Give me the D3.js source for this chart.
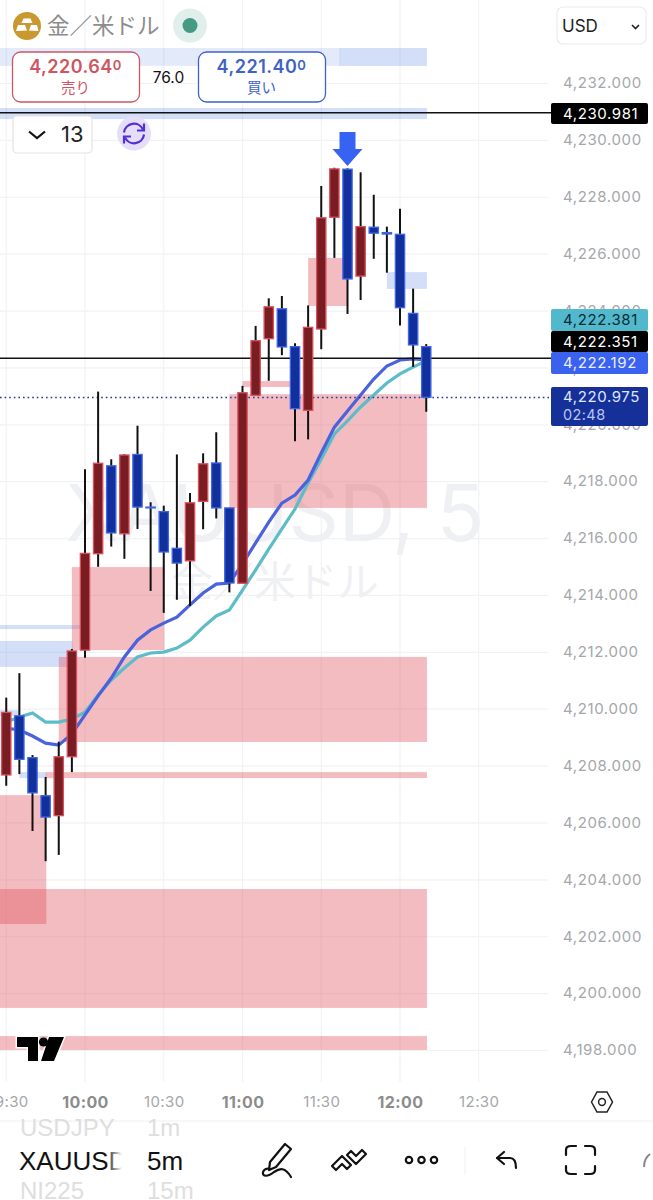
<!DOCTYPE html>
<html><head><meta charset="utf-8">
<script src="https://cdn.jsdelivr.net/npm/d3@7"></script>
<style>
html,body{margin:0;padding:0;background:#fff}
svg{display:block}
text{font-family:Inter,"Noto Sans CJK JP",sans-serif}
</style></head><body>
<svg id="c" width="653" height="1200"></svg>
<script>
const times=["09:30","09:35","09:40","09:45","09:50","09:55","10:00","10:05","10:10","10:15","10:20","10:25","10:30","10:35","10:40","10:45","10:50","10:55","11:00","11:05","11:10","11:15","11:20","11:25","11:30","11:35","11:40","11:45","11:50","11:55","12:00","12:05","12:10"];
const opens=[4207.67,4209.75,4208.28,4206.94,4206.24,4208.31,4212.06,4215.45,4218.54,4216.15,4218.94,4217.09,4216.93,4215.64,4215.20,4217.29,4218.64,4217.06,4214.41,4221.02,4223.01,4224.06,4222.73,4220.49,4223.35,4227.28,4228.97,4225.21,4226.93,4226.74,4226.68,4223.90,4222.73];
const closes=[4209.87,4208.22,4207.04,4206.19,4208.31,4212.03,4215.46,4218.63,4216.18,4218.92,4217.09,4217.06,4215.51,4215.12,4217.24,4218.61,4217.06,4214.42,4221.11,4222.94,4224.13,4222.72,4220.55,4223.41,4227.26,4228.98,4225.11,4226.95,4226.72,4226.69,4224.10,4222.79,4220.95];
const highs=[4210.39,4211.25,4208.37,4207.60,4208.84,4212.10,4218.42,4221.15,4218.77,4218.95,4219.95,4217.26,4217.14,4218.94,4217.58,4218.98,4219.72,4217.06,4221.35,4223.46,4224.43,4224.51,4222.85,4224.18,4228.38,4229.02,4229.00,4228.86,4228.07,4226.95,4227.58,4224.77,4222.82];
const lows=[4207.29,4207.70,4205.70,4204.64,4204.86,4207.77,4211.79,4214.99,4215.70,4215.27,4216.32,4214.14,4213.37,4213.83,4213.61,4216.31,4216.69,4214.09,4214.41,4221.02,4221.53,4222.43,4219.40,4219.47,4222.64,4225.85,4223.88,4224.37,4225.82,4225.33,4223.47,4222.02,4220.44];
const emaFast=[4209.32,4209.25,4209.04,4208.79,4208.72,4209.11,4209.78,4210.45,4211.08,4211.82,4212.41,4212.77,4213.01,4213.22,4213.65,4214.07,4214.38,4214.42,4215.09,4215.83,4216.56,4217.23,4217.51,4218.04,4218.99,4219.90,4220.47,4221.03,4221.59,4222.05,4222.26,4222.30,4222.26];
const emaSlow=[4209.53,4209.71,4209.85,4209.53,4209.53,4209.64,4209.88,4210.48,4211.01,4211.43,4211.82,4211.96,4211.99,4212.13,4212.41,4212.87,4213.26,4213.47,4214.17,4214.88,4215.61,4216.32,4217.02,4217.94,4218.78,4219.66,4220.12,4220.61,4221.03,4221.45,4221.77,4222.01,4222.23];

const demandStart=["09:00","09:00","09:50","09:45","09:55","10:55","11:00","11:25","09:00"];
const demandEnd=["12:10","09:45","12:10","12:10","10:30","12:10","11:18","11:40","12:10"];
const demandTop=[4203.66,4206.96,4211.82,4207.77,4214.98,4221.06,4221.52,4225.85,4198.49];
const demandBottom=[4199.48,4202.43,4208.83,4207.56,4212.06,4217.06,4221.31,4224.16,4198.00];
const supplyStart=["11:37","09:00","11:55","09:00","09:00","09:35","09:00"];
const supplyEnd=["12:10","12:10","12:10","09:55","09:58","09:45","09:35"];
const supplyTop=[4233.23,4231.12,4225.35,4212.38,4212.94,4207.77,4209.95];
const supplyBottom=[4232.60,4230.73,4224.76,4211.47,4212.80,4207.56,4209.75];
const faintStart=["09:00"];
const faintEnd=["11:37"];
const faintTop=[4233.23];
const faintBottom=[4232.60];

const priceTicks=[4232,4230,4228,4226,4224,4222,4220,4218,4216,4214,4212,4210,4208,4206,4204,4202,4200,4198];
const timeTicks=["09:30","10:00","10:30","11:00","11:30","12:00","12:30"];
const priceLines=[4230.981,4222.351];
const lastPrice=4220.975;

const parse=d3.timeParse("%H:%M");
const x=d3.scaleTime().domain([parse("10:00"),parse("12:00")]).range([85,400]);
const y=d3.scaleLinear().domain([4232,4198]).range([83,1050]);
const svg=d3.select("#c");
const candleW=x(parse("10:04"))-x(parse("10:00"));

// grid + axes
const gridCol="#f1f2f4";
svg.append("g").selectAll("line").data(timeTicks).join("line")
 .attr("x1",d=>x(parse(d))).attr("x2",d=>x(parse(d))).attr("y1",0).attr("y2",1082)
 .attr("stroke",gridCol).attr("stroke-width",1.2);
const ay=svg.append("g")
 .call(d3.axisRight(y).tickValues(priceTicks).tickFormat(d3.format(",.3f")).tickSize(548).tickPadding(15));
ay.select(".domain").remove();
ay.selectAll("line").attr("stroke",gridCol).attr("stroke-width",1.2);
ay.selectAll("text").attr("fill","#a5a7ab").attr("font-size",15).attr("letter-spacing",.6);
const ax=svg.append("g").attr("transform","translate(0,1102)")
 .call(d3.axisBottom(x).tickValues(timeTicks.map(parse)).tickFormat(d3.timeFormat("%H:%M")).tickSize(0).tickPadding(0));
ax.select(".domain").remove();
ax.selectAll("text").attr("dy","0.35em").attr("fill",d=>d.getMinutes()===0?"#8c8c8c":"#a5a7ab")
 .attr("font-size",d=>d.getMinutes()===0?16:15).attr("letter-spacing",d=>d.getMinutes()===0?.4:.4)
 .attr("font-weight",d=>d.getMinutes()===0?700:400);

// watermark
svg.append("text").attr("x",275).attr("y",541).attr("text-anchor","middle").attr("font-size",78.5).attr("fill","#eff0f3").text("XAUUSD, 5");
svg.append("text").attr("x",275).attr("y",597).attr("text-anchor","middle").attr("font-size",41.5).attr("fill","#eff0f3").text("金／米ドル");

// zones
function zones(s,e,t,b,fill){
 svg.append("g").selectAll("rect").data(s).join("rect")
  .attr("x",(d,i)=>x(parse(s[i]))).attr("width",(d,i)=>x(parse(e[i]))-x(parse(s[i]))+.7)
  .attr("y",(d,i)=>y(t[i])).attr("height",(d,i)=>y(b[i])-y(t[i])).attr("fill",fill);
}
zones(faintStart,faintEnd,faintTop,faintBottom,"rgba(70,120,225,.15)");
zones(supplyStart,supplyEnd,supplyTop,supplyBottom,"rgba(70,120,225,.24)");
zones(demandStart,demandEnd,demandTop,demandBottom,"rgba(224,80,90,.38)");

// EMAs
const line=d3.line().x((d,i)=>x(parse(times[i]))).y(d=>y(d)).curve(d3.curveLinear);
svg.append("path").attr("d",line(emaSlow)).attr("fill","none").attr("stroke","#5cbcc8").attr("stroke-width",3.2);
svg.append("path").attr("d",line(emaFast)).attr("fill","none").attr("stroke","#4a62dc").attr("stroke-width",3.2);

// price lines
svg.append("g").selectAll("line").data(priceLines).join("line")
 .attr("x1",0).attr("x2",551).attr("y1",d=>y(d)+.7).attr("y2",d=>y(d)+.7).attr("stroke","#111").attr("stroke-width",1.5);
svg.append("line").attr("x1",0).attr("x2",551).attr("y1",y(lastPrice)+1).attr("y2",y(lastPrice)+1)
 .attr("stroke","#23379a").attr("stroke-width",1.6).attr("stroke-dasharray","1.6 3");

// candles
const g=svg.append("g").selectAll("g").data(times).join("g");
g.append("line").attr("x1",d=>x(parse(d))).attr("x2",d=>x(parse(d)))
 .attr("y1",(d,i)=>y(highs[i])).attr("y2",(d,i)=>y(lows[i])).attr("stroke","#111").attr("stroke-width",2);
g.append("rect").attr("x",d=>x(parse(d))-candleW/2+.6).attr("width",candleW-1.2)
 .attr("y",(d,i)=>y(Math.max(opens[i],closes[i])))
 .attr("height",(d,i)=>Math.max(.6,y(Math.min(opens[i],closes[i]))-y(Math.max(opens[i],closes[i]))))
 .attr("fill",(d,i)=>closes[i]>opens[i]?"#7a1d22":"#12309c")
 .attr("stroke",(d,i)=>closes[i]>opens[i]?"#d8505c":"#3f66e6").attr("stroke-width",1.3);

// arrow
const ax0=x(parse("11:40")), ay0=y(4229.05);
svg.append("path").attr("transform",`translate(${ax0},${ay0})`)
 .attr("d","M0,-1 L-15,-18 L-8,-18 L-8,-35 L8,-35 L8,-18 L15,-18 Z").attr("fill","#3763f4");

// price tags
const tags=[
 {y0:103,y1:124,fill:"#000",col:"#fff",t:"4,230.981"},
 {y0:309,y1:331,fill:"#52b8cc",col:"#0b2a36",t:"4,222.381"},
 {y0:352,y1:374,fill:"#3a62ee",col:"#e8edff",t:"4,222.192"},
 {y0:331,y1:352,fill:"#000",col:"#fff",t:"4,222.351"},
 {y0:387,y1:426,fill:"#16309a",col:"#dfe6ff",t:"4,220.975",t2:"02:48"}];
tags.forEach(d=>{
 svg.append("rect").attr("x",551).attr("y",d.y0).attr("width",97).attr("height",d.y1-d.y0).attr("rx",2).attr("fill",d.fill);
 svg.append("text").attr("x",563).attr("y",d.t2?397:(d.y0+d.y1)/2).attr("dy",".36em").attr("font-size",15).attr("letter-spacing",.6).attr("fill",d.col).text(d.t);
 if(d.t2) svg.append("text").attr("x",563).attr("y",414.5).attr("dy",".36em").attr("font-size",14.5).attr("letter-spacing",.4).attr("fill","#b9c5f5").text(d.t2);
});

// TV logo
const logo=svg.append("g").attr("transform","translate(17,1037)");
const logoD="M0,0 H21 V24 H11 V10 H0 Z M32,0 H47 L37,24 H24 Z";
logo.append("path").attr("d",logoD).attr("fill","#fff").attr("stroke","#fff").attr("stroke-width",3);
logo.append("path").attr("d",logoD).attr("fill","#000");
logo.append("circle").attr("cx",26.5).attr("cy",5).attr("r",4.6).attr("fill","#000");

// header
svg.append("circle").attr("cx",27).attr("cy",26).attr("r",14).attr("fill","#c9982f");
svg.append("path").attr("d","M23.5,18.5 h7 l2,4.5 h-11 Z M16,31 l2,-6 h7 l2,5.5 Z M29,30.5 l2,-5.5 h6 l1.5,6 Z").attr("fill","#fff");
svg.append("text").attr("x",47).attr("y",34).attr("font-size",22.5).attr("fill","#8d8d8d").text("金／米ドル");
svg.append("circle").attr("cx",190).attr("cy",25.5).attr("r",17).attr("fill","#e0efeb");
svg.append("circle").attr("cx",190).attr("cy",25.5).attr("r",7.5).attr("fill","#459a85");

function priceBtn(xx,col,main,sub){
 svg.append("rect").attr("x",xx).attr("y",52).attr("width",127).attr("height",50).attr("rx",8).attr("fill","#fff").attr("stroke",col).attr("stroke-width",1.3);
 const t=svg.append("text").attr("x",xx+63).attr("y",72.5).attr("text-anchor","middle").attr("font-size",18).attr("font-weight",600).attr("letter-spacing",.5).attr("fill",col);
 t.append("tspan").text(main);
 t.append("tspan").attr("font-size",13).attr("dy",-3).text("0");
 svg.append("text").attr("x",xx+63).attr("y",93).attr("text-anchor","middle").attr("font-size",14.5).attr("fill",col).text(sub);
}
priceBtn(12.5,"#cf5560","4,220.64","売り");
priceBtn(198.5,"#3f62c6","4,221.40","買い");
svg.append("text").attr("x",168.5).attr("y",82.5).attr("text-anchor","middle").attr("font-size",15.5).attr("fill","#111").text("76.0");

svg.append("rect").attr("x",13).attr("y",116).attr("width",79).attr("height",37).attr("rx",4).attr("fill","#fff").attr("stroke","#e3e3e3").attr("stroke-width",1.2);
svg.append("path").attr("d","M29,131.5 L37,138 L45,131.5").attr("fill","none").attr("stroke","#111").attr("stroke-width",2.2);
svg.append("text").attr("x",61).attr("y",142).attr("font-size",22).attr("fill","#222").text("13");
svg.append("circle").attr("cx",134).attr("cy",133.5).attr("r",17).attr("fill","#e6def8");
const sync=svg.append("g").attr("transform","translate(134,133.5)").attr("fill","none").attr("stroke","#5230d4").attr("stroke-width",2.2);
sync.append("path").attr("d","M-10,-1 A10,10 0 0 1 9,-4");
sync.append("path").attr("d","M10,1 A10,10 0 0 1 -9,4");
sync.append("path").attr("d","M10,-10 V-3 H3");
sync.append("path").attr("d","M-10,10 V3 H-3");

// USD selector
svg.append("rect").attr("x",557).attr("y",7).attr("width",89).attr("height",37).attr("rx",6).attr("fill","#fff").attr("stroke","#ececec").attr("stroke-width",1.2);
svg.append("text").attr("x",562).attr("y",32).attr("font-size",17).attr("fill","#222").text("USD");
svg.append("path").attr("d","M632,25 L635.5,28.5 L639,25").attr("fill","none").attr("stroke","#222").attr("stroke-width",1.6);

// hexagon settings
const hx=svg.append("g").attr("transform","translate(602,1102)").attr("fill","none").attr("stroke","#222").attr("stroke-width",1.5);
hx.append("path").attr("d","M-10.5,0 L-5,-10 H5 L10.5,0 L5,10 H-5 Z");
hx.append("circle").attr("r",3.4);

// bottom toolbar
svg.append("line").attr("x1",0).attr("x2",653).attr("y1",1121).attr("y2",1121).attr("stroke","#f0f0f0");
const defs=svg.append("defs");
const lg=defs.append("linearGradient").attr("id","fade").attr("gradientUnits","userSpaceOnUse").attr("x1",106).attr("x2",122).attr("y1",0).attr("y2",0);
lg.append("stop").attr("offset",0).attr("stop-color","#111");
lg.append("stop").attr("offset",1).attr("stop-color","#111").attr("stop-opacity",0);
const tb=[["USDJPY",20,1136,24,"#dedede"],["1m",147,1136,24,"#dedede"],["XAUUSD",19,1170,26,"url(#fade)"],["5m",147,1170,26,"#111"],["NI225",20,1199,24,"#dedede"],["15m",147,1199,24,"#dedede"]];
tb.forEach(d=>svg.append("text").attr("x",d[1]).attr("y",d[2]).attr("font-size",d[3]).style("font-family","'Liberation Sans',sans-serif").attr("fill",d[4]).text(d[0]));
const ic=svg.append("g").attr("fill","none").attr("stroke","#111").attr("stroke-width",2.2).attr("stroke-linecap","round").attr("stroke-linejoin","round");
ic.append("path").attr("d","M285,1144 L291,1149 L276,1167 L269,1170 L270,1162 Z");
ic.append("path").attr("d","M291,1177 C285,1167 280,1168 274,1172 C268,1177 262,1177 263,1172 C264,1169 267,1168 270,1169");
ic.append("path").attr("d","M332,1166 L342,1156 L351,1165 L347,1169 L342,1164 L336,1170 Z");
ic.append("path").attr("d","M366,1154 L356,1164 L347,1155 L351,1151 L356,1156 L362,1150 Z");
[409,421.5,434].forEach(cx=>ic.append("circle").attr("cx",cx).attr("cy",1160).attr("r",3.2));
svg.append("line").attr("x1",465).attr("x2",465).attr("y1",1147).attr("y2",1175).attr("stroke","#f0f0f0");
ic.append("path").attr("d","M504,1152 L497,1158 L504,1164");
ic.append("path").attr("d","M497,1158 H510 C514,1158 516,1162 516,1168");
ic.append("path").attr("d","M566,1155 V1150 Q566,1146 571,1146 H576 M585,1146 H590 Q595,1146 595,1150 V1155 M595,1166 V1170 Q595,1174 590,1174 H585 M576,1174 H571 Q566,1174 566,1170 V1166");
svg.append("path").attr("d","M644,1167 C644,1161 646,1157 650,1154").attr("fill","none").attr("stroke","#888").attr("stroke-width",2);
</script>
</body></html>
